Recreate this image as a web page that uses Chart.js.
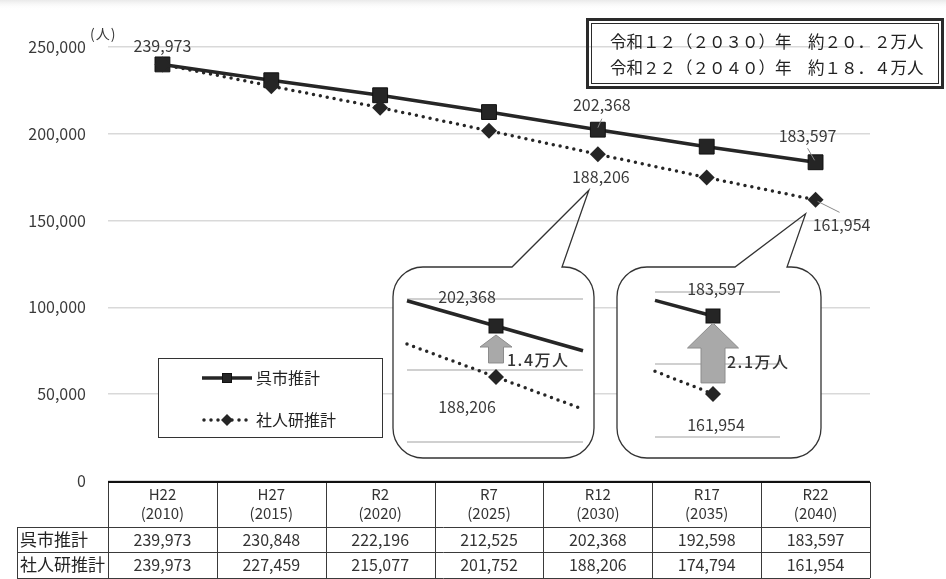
<!DOCTYPE html>
<html>
<head>
<meta charset="utf-8">
<script src="https://cdn.jsdelivr.net/npm/chart.js@4/dist/chart.umd.min.js"></script>
<style>html,body{margin:0;padding:0;background:#fff}</style>
</head>
<body>
<canvas id="c" width="946" height="579"></canvas>
<script>
// data
const eraLabels = ['H22', 'H27', 'R2', 'R7', 'R12', 'R17', 'R22'];
const yearLabels = ['(2010)', '(2015)', '(2020)', '(2025)', '(2030)', '(2035)', '(2040)'];
const kureValues = [239973, 230848, 222196, 212525, 202368, 192598, 183597];
const ipssValues = [239973, 227459, 215077, 201752, 188206, 174794, 161954];
const seriesNames = ['呉市推計', '社人研推計'];
const yMin = 0, yMax = 250000, yStep = 50000;
const unitLabel = '(人)';
const noteLines = ['令和１２（２０３０）年　約２０．２万人', '令和２２（２０４０）年　約１８．４万人'];

const FONT = '"Noto Sans CJK JP", "Noto Sans", sans-serif';
const INK = '#262626';
const TXT = '#3a3a3a';
const fmt = v => v.toLocaleString('en-US');
const font = (px, w) => (w || 'normal') + ' ' + px + 'px ' + FONT;

// which points get a value label (offsets are label placement only)
const pointLabels = [
  { ds: 0, i: 0, dx: 0, dy: -18 },
  { ds: 0, i: 4, dx: 4, dy: -25, lead: [0, -2, 4, -11] },
  { ds: 1, i: 4, dx: 3, dy: 23 },
  { ds: 0, i: 6, dx: -8, dy: -26, lead: [-1, -2, -8, -14] },
  { ds: 1, i: 6, dx: 26, dy: 25, lead: [2, 1.5, 24, 12.5] }
];

// zoomed callout boxes
const callouts = [
  { i: 4, left: 393, top: 267, width: 201, height: 191, tailL: 512, tailR: 562, tipDx: -9, tipDy: 36,
    gridL: 14, gridR: 190, gridY: [32, 103, 175], markX: 103, sqY: 59, lineL: 14, lineR: 190,
    solidSlope: 0.284, dotSlope: 0.37, labelX: 74, labelUp: 30, labelDown: 140,
    head: 12, headW: 16, shaftW: 7.5, tipGap: 9, baseGap: 6, textX: 114, textY: 93 },
  { i: 6, left: 617, top: 267, width: 204, height: 191, tailL: 735, tailR: 787, tipDx: -10, tipDy: 14,
    gridL: 38, gridR: 163, gridY: [25, 97, 170], markX: 96, sqY: 49, lineL: 38, lineR: 96,
    solidSlope: 0.27, dotSlope: 0.39, labelX: 99, labelUp: 22, labelDown: 158,
    head: 25, headW: 25.5, shaftW: 12, tipGap: 7, baseGap: 3, textX: 110, textY: 95 }
];
const insetScale = 0.0036; // px per person inside the callouts

function square(ctx, x, y, s) {
  ctx.fillStyle = '#252525';
  ctx.fillRect(x - s / 2, y - s / 2, s, s);
  ctx.strokeStyle = '#111';
  ctx.lineWidth = 1;
  ctx.strokeRect(x - s / 2, y - s / 2, s, s);
}
function diamond(ctx, x, y, r) {
  ctx.beginPath();
  ctx.moveTo(x, y - r); ctx.lineTo(x + r, y); ctx.lineTo(x, y + r); ctx.lineTo(x - r, y);
  ctx.closePath();
  ctx.fillStyle = '#252525';
  ctx.fill();
}
function solid(ctx, x1, y1, x2, y2, w) {
  ctx.save();
  ctx.beginPath(); ctx.moveTo(x1, y1); ctx.lineTo(x2, y2);
  ctx.strokeStyle = INK; ctx.lineWidth = w || 3.5; ctx.stroke();
  ctx.restore();
}
function dotted(ctx, x1, y1, x2, y2) {
  ctx.save();
  ctx.beginPath(); ctx.moveTo(x1, y1); ctx.lineTo(x2, y2);
  ctx.setLineDash([0, 7]); ctx.lineCap = 'round';
  ctx.strokeStyle = INK; ctx.lineWidth = 3.5; ctx.stroke();
  ctx.restore();
}
function text(ctx, s, x, y, f, align, color, spacing) {
  ctx.save();
  ctx.font = f;
  ctx.fillStyle = color || TXT;
  ctx.textAlign = align || 'center';
  ctx.textBaseline = 'middle';
  if (spacing) ctx.letterSpacing = spacing;
  ctx.fillText(s, x, y);
  ctx.restore();
}

function drawCallout(ctx, c, pt) {
  const L = c.left, T = c.top, R = L + c.width, B = T + c.height, r = 30;
  ctx.save();
  ctx.beginPath();
  ctx.roundRect(L, T, c.width, c.height, r);
  ctx.fillStyle = '#fff';
  ctx.fill();
  ctx.beginPath();
  ctx.moveTo(c.tailL, T);
  ctx.lineTo(L + r, T);
  ctx.arcTo(L, T, L, T + r, r);
  ctx.lineTo(L, B - r);
  ctx.arcTo(L, B, L + r, B, r);
  ctx.lineTo(R - r, B);
  ctx.arcTo(R, B, R, B - r, r);
  ctx.lineTo(R, T + r);
  ctx.arcTo(R, T, R - r, T, r);
  ctx.lineTo(c.tailR, T);
  ctx.lineTo(pt.x + c.tipDx, pt.y + c.tipDy);
  ctx.closePath();
  ctx.strokeStyle = '#333';
  ctx.lineWidth = 1.3;
  ctx.stroke();

  // inset grid
  ctx.strokeStyle = '#d0d0d0';
  ctx.lineWidth = 2;
  c.gridY.forEach(g => {
    ctx.beginPath(); ctx.moveTo(L + c.gridL, T + g); ctx.lineTo(L + c.gridR, T + g); ctx.stroke();
  });
  ctx.restore();

  const k = kureValues[c.i], s = ipssValues[c.i];
  const mx = L + c.markX, sy = T + c.sqY, dy = sy + (k - s) * insetScale;
  text(ctx, fmt(k), L + c.labelX, T + c.labelUp, font(16), 'center');
  text(ctx, fmt(s), L + c.labelX, T + c.labelDown, font(16), 'center');

  solid(ctx, L + c.lineL, sy + c.solidSlope * (c.lineL - c.markX), L + c.lineR, sy + c.solidSlope * (c.lineR - c.markX));
  dotted(ctx, L + c.lineL, dy + c.dotSlope * (c.lineL - c.markX), L + c.lineR, dy + c.dotSlope * (c.lineR - c.markX));
  square(ctx, mx, sy, 14);
  diamond(ctx, mx, dy, 8);

  // up arrow
  const tip = sy + c.tipGap, base = dy - 8 - c.baseGap;
  ctx.save();
  ctx.beginPath();
  ctx.moveTo(mx, tip);
  ctx.lineTo(mx + c.headW, tip + c.head);
  ctx.lineTo(mx + c.shaftW, tip + c.head);
  ctx.lineTo(mx + c.shaftW, base);
  ctx.lineTo(mx - c.shaftW, base);
  ctx.lineTo(mx - c.shaftW, tip + c.head);
  ctx.lineTo(mx - c.headW, tip + c.head);
  ctx.closePath();
  ctx.fillStyle = '#a9a9a9';
  ctx.fill();
  ctx.strokeStyle = '#8c8c8c';
  ctx.lineWidth = 1;
  ctx.stroke();
  ctx.restore();

  const diff = (Math.floor((k - s) / 1000) / 10).toFixed(1) + '万人';
  text(ctx, diff, L + c.textX, T + c.textY, font(16, '500'), 'left', '#333', '1.5px');
}

const overlay = {
  id: 'overlay',
  afterDraw(chart) {
    const ctx = chart.ctx, xs = chart.scales.x, area = chart.chartArea;
    const metas = [chart.getDatasetMeta(0).data, chart.getDatasetMeta(1).data];

    // faint shadow at the top edge
    const g = ctx.createLinearGradient(0, 0, 0, 10);
    g.addColorStop(0, '#e9e9e9'); g.addColorStop(1, 'rgba(255,255,255,0)');
    ctx.fillStyle = g;
    ctx.fillRect(0, 0, 946, 10);

    text(ctx, unitLabel, 90, 34, font(14), 'left', TXT, '1px');

    // value labels
    pointLabels.forEach(p => {
      const pt = metas[p.ds][p.i];
      const v = (p.ds === 0 ? kureValues : ipssValues)[p.i];
      if (p.lead) {
        ctx.save();
        ctx.beginPath();
        ctx.moveTo(pt.x + p.lead[0], pt.y + p.lead[1]);
        ctx.lineTo(pt.x + p.lead[2], pt.y + p.lead[3]);
        ctx.strokeStyle = '#8a8a8a'; ctx.lineWidth = 1; ctx.stroke();
        ctx.restore();
      }
      text(ctx, fmt(v), pt.x + p.dx, pt.y + p.dy, font(16), 'center');
    });

    callouts.forEach(c => drawCallout(ctx, c, metas[1][c.i]));

    // note box
    ctx.save();
    ctx.strokeStyle = '#2a2a2a';
    ctx.lineWidth = 3;
    ctx.strokeRect(587.5, 19.5, 355, 68);
    ctx.lineWidth = 1;
    ctx.strokeRect(591.5, 23.5, 347, 60);
    ctx.restore();
    text(ctx, noteLines[0], 610, 42, font(16.5), 'left', '#222');
    text(ctx, noteLines[1], 610, 68, font(16.5), 'left', '#222');

    // legend
    const lg = { left: 158, top: 358, width: 224, height: 79 };
    ctx.save();
    ctx.fillStyle = '#fff';
    ctx.fillRect(lg.left, lg.top, lg.width, lg.height);
    ctx.strokeStyle = '#333'; ctx.lineWidth = 1;
    ctx.strokeRect(lg.left + 0.5, lg.top + 0.5, lg.width, lg.height);
    ctx.restore();
    chart.data.datasets.forEach((d, n) => {
      const yy = lg.top + 20 + n * 42;
      if (n === 0) { solid(ctx, 202, yy, 252, yy); square(ctx, 227, yy, 9); }
      else { dotted(ctx, 204, yy, 252, yy); diamond(ctx, 227, yy, 6); }
      text(ctx, d.label, 256, yy, font(16), 'left', '#222');
    });

    // table
    const top = area.bottom + 1, h1 = top + 45, h2 = h1 + 25, h3 = h2 + 26, labL = 17;
    ctx.save();
    ctx.strokeStyle = '#3a3a3a'; ctx.lineWidth = 1;
    ctx.beginPath();
    [h1, h2, h3].forEach(yy => { ctx.moveTo(labL, yy + 0.5); ctx.lineTo(area.right, yy + 0.5); });
    ctx.moveTo(labL + 0.5, h1); ctx.lineTo(labL + 0.5, h3);
    for (let i = 0; i <= eraLabels.length; i++) {
      const ex = Math.round(area.left + i * (area.right - area.left) / eraLabels.length) + 0.5;
      ctx.moveTo(ex, top); ctx.lineTo(ex, h3);
    }
    ctx.stroke();
    ctx.strokeStyle = '#111'; ctx.lineWidth = 2;
    ctx.beginPath(); ctx.moveTo(area.left, top); ctx.lineTo(area.right, top); ctx.stroke();
    ctx.restore();
    eraLabels.forEach((e, i) => {
      const cx = xs.getPixelForValue(i);
      text(ctx, e, cx, top + 12, font(15), 'center', '#333');
      text(ctx, yearLabels[i], cx, top + 31, font(15), 'center', '#333');
      text(ctx, fmt(kureValues[i]), cx, h1 + 13, font(16), 'center', '#333');
      text(ctx, fmt(ipssValues[i]), cx, h2 + 13, font(16), 'center', '#333');
    });
    text(ctx, seriesNames[0], 20, h1 + 13, font(17), 'left', '#222');
    text(ctx, seriesNames[1], 20, h2 + 13, font(17), 'left', '#222');
  }
};

new Chart(document.getElementById('c'), {
  type: 'line',
  data: {
    labels: eraLabels,
    datasets: [
      {
        label: seriesNames[0],
        data: kureValues,
        order: 1,
        borderColor: INK,
        borderWidth: 3.5,
        tension: 0,
        pointStyle: 'rect',
        pointRadius: 10.5,
        pointBackgroundColor: '#252525',
        pointBorderColor: '#111',
        pointBorderWidth: 1
      },
      {
        label: seriesNames[1],
        data: ipssValues,
        order: 0,
        borderColor: INK,
        borderWidth: 3.5,
        borderDash: [0, 7],
        borderCapStyle: 'round',
        tension: 0,
        pointStyle: 'rectRot',
        pointRadius: 8,
        pointBackgroundColor: '#252525',
        pointBorderColor: '#252525',
        pointBorderWidth: 0
      }
    ]
  },
  options: {
    responsive: false,
    animation: false,
    devicePixelRatio: 1,
    layout: { padding: { left: 0, right: 76, top: 47, bottom: 98 } },
    plugins: { legend: { display: false }, tooltip: { enabled: false } },
    scales: {
      x: { display: false, offset: true },
      y: {
        min: yMin,
        max: yMax,
        ticks: { stepSize: yStep, padding: 22, color: TXT, font: { family: FONT, size: 16 }, callback: v => fmt(v) },
        grid: { color: '#d9d9d9', lineWidth: 1.5, drawTicks: false },
        border: { display: false },
        afterFit(s) { s.width = 108; }
      }
    }
  },
  plugins: [overlay]
});
</script>
</body>
</html>
